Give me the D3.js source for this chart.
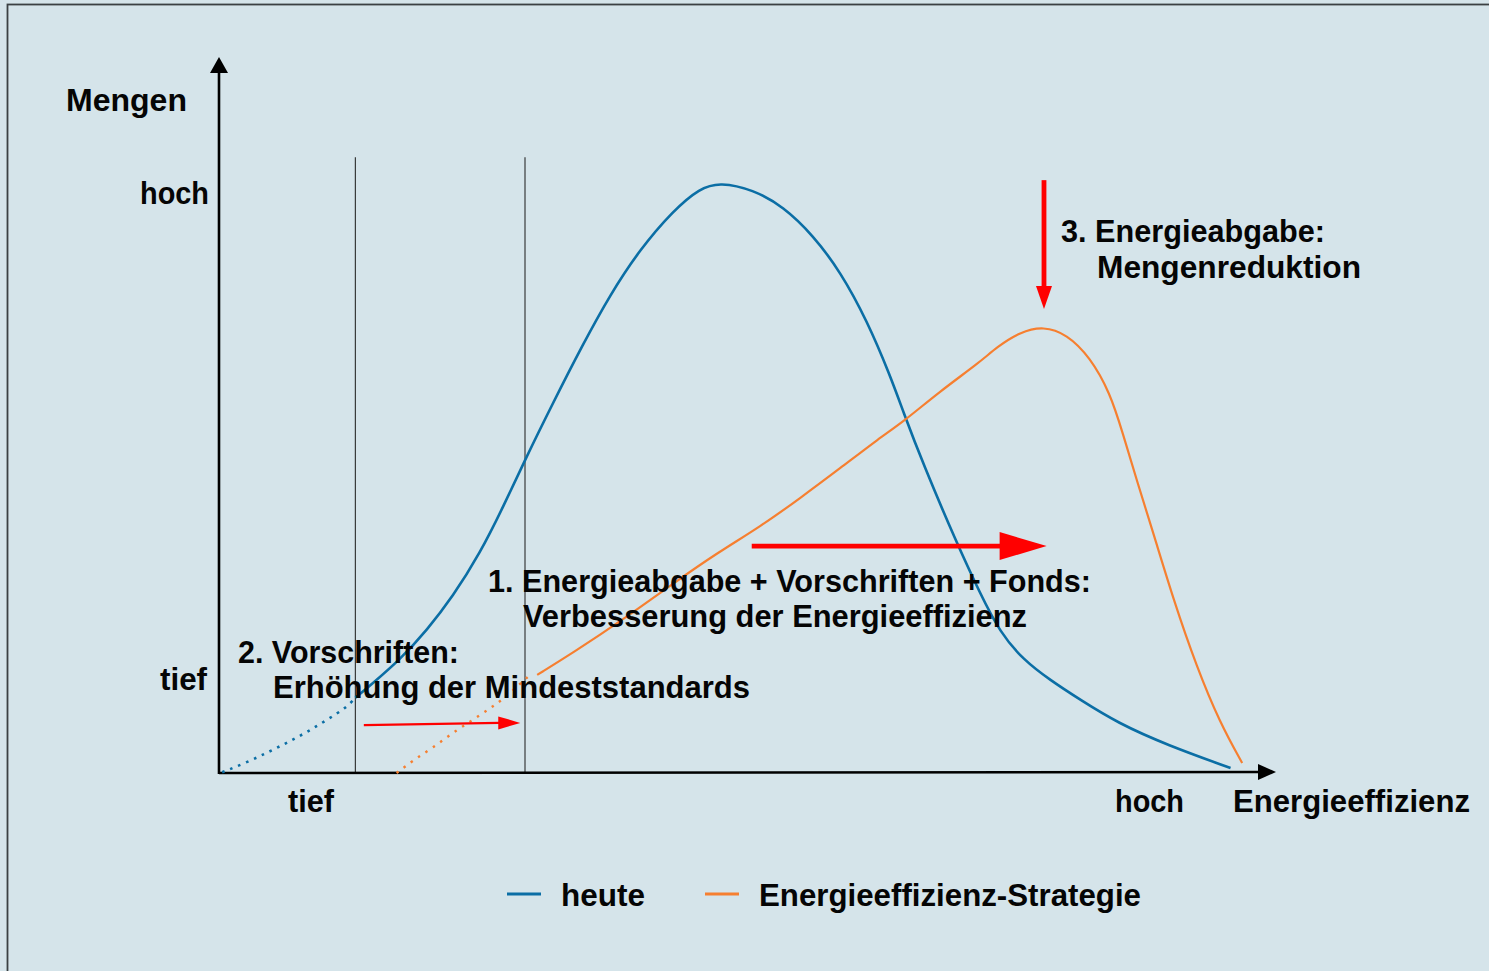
<!DOCTYPE html>
<html>
<head>
<meta charset="utf-8">
<script src="https://cdn.jsdelivr.net/npm/d3@7/dist/d3.min.js"></script>
<style>
  html, body { margin: 0; padding: 0; background: #d5e4ea; }
  svg { display: block; }
  text { font-family: "Liberation Sans", Arial, sans-serif; font-weight: bold; fill: #050505; }
</style>
</head>
<body>
<svg id="chart" width="1489" height="971"></svg>
<script>
// ---- Data (abstract units: Energieeffizienz 0..100, Mengen 0..100) ----
const seriesNames = ["heute", "Energieeffizienz-Strategie"];
const xTickLabels = ["tief", "hoch"];
const yTickLabels = ["tief", "hoch"];

const heuteDotted = [[0.3,0.1],[2.5,1.4],[4.5,2.8],[6.4,4.2],[8.3,5.7],[10.2,7.4],[12.1,9.2],[12.9,10.5]];
const heuteSolid = [[12.9,10.5],[14.6,12.6],[17.1,15.8],[19.7,20.0],[22.1,24.6],[24.7,30.7],[26.9,37.2],[29.0,43.9],
  [31.6,51.7],[34.4,59.8],[37.0,66.8],[39.8,73.1],[43.0,78.6],[45.5,81.7],[47.4,82.5],[50.5,81.5],[53.4,79.1],
  [56.2,75.1],[58.8,70.0],[61.3,63.2],[63.5,55.5],[64.7,50.6],[66.6,43.2],[69.8,32.1],[72.0,25.1],[73.9,19.6],
  [76.1,15.8],[78.6,13.0],[81.5,10.2],[85.0,7.0],[89.7,3.9],[95.7,0.7]];

const strategieDotted = [[16.8,0.0],[18.4,1.8],[20.3,3.6],[22.1,5.6],[24.0,7.4],[25.8,9.2],[26.8,10.2],[29.2,13.4]];
const strategieSolid = [[30.1,13.7],[33.5,16.8],[38.2,21.4],[43.0,26.5],[47.1,30.7],[51.2,34.4],[55.0,38.4],
  [58.8,42.6],[62.5,46.8],[64.7,49.0],[68.2,53.3],[72.0,57.4],[73.6,59.5],[75.8,61.6],[78.0,62.4],[80.2,61.3],
  [82.4,58.1],[84.3,53.1],[85.5,47.5],[86.9,40.5],[88.4,33.5],[90.3,24.2],[92.5,14.8],[94.7,7.0],[96.8,1.4]];

// vertical reference lines (x positions) and top value
const refLinesX = [12.9, 28.95];
const refLineTop = 86.0;

// red arrows: [x1,y1,x2,y2]
const arrowSmall = [13.7, 6.7, 28.5, 7.0];
const arrowBig = [50.4, 31.7, 78.3, 31.7];
const arrowDown = [78.05, 82.8, 78.05, 64.8];

const annotations = [
  ["1. Energieabgabe + Vorschriften + Fonds:", "Verbesserung der Energieeffizienz"],
  ["2. Vorschriften:", "Erhöhung der Mindeststandards"],
  ["3. Energieabgabe:", "Mengenreduktion"]
];
const axisTitles = { x: "Energieeffizienz", y: "Mengen" };

// ---- Drawing ----
const svg = d3.select("#chart");
const colors = { heute: "#0b6ea5", strat: "#f67f30", red: "#ff0000" };

const x = d3.scaleLinear().domain([0, 100]).range([219, 1276]);
const y = d3.scaleLinear().domain([0, 100]).range([773, 57]);

// frame
svg.append("rect").attr("x", 7.5).attr("y", 4.5).attr("width", 1520).attr("height", 1000)
  .attr("fill", "#d5e4ea").attr("stroke", "#3b4043").attr("stroke-width", 1.8);

// reference lines
refLinesX.forEach(v => {
  svg.append("line").attr("x1", x(v)).attr("x2", x(v)).attr("y1", y(refLineTop)).attr("y2", y(0))
    .attr("stroke", "#2a2a2a").attr("stroke-width", 1.1);
});

// axes with arrowheads
const ax0 = x(0), ay0 = y(0);
svg.append("line").attr("x1", ax0).attr("y1", ay0).attr("x2", x(100) - 14).attr("y2", ay0 - 1)
  .attr("stroke", "#000").attr("stroke-width", 2.6);
svg.append("line").attr("x1", ax0).attr("y1", ay0 + 1).attr("x2", ax0).attr("y2", y(100) + 12)
  .attr("stroke", "#000").attr("stroke-width", 2.6);
svg.append("path").attr("d", `M${x(100)},${ay0 - 1} L${x(100) - 18},${ay0 - 9} L${x(100) - 18},${ay0 + 7} Z`).attr("fill", "#000");
svg.append("path").attr("d", `M${ax0},${y(100)} L${ax0 - 9},${y(100) + 16} L${ax0 + 9},${y(100) + 16} Z`).attr("fill", "#000");

// curves
const line = d3.line().x(d => x(d[0])).y(d => y(d[1])).curve(d3.curveBasis);

svg.append("path").attr("d", line(heuteDotted)).attr("fill", "none").attr("stroke", colors.heute)
  .attr("stroke-width", 2.6).attr("stroke-dasharray", "2.6 6");
svg.append("path").attr("d", line(heuteSolid)).attr("fill", "none").attr("stroke", colors.heute)
  .attr("stroke-width", 2.6).attr("stroke-linejoin", "round");
svg.append("path").attr("d", line(strategieDotted)).attr("fill", "none").attr("stroke", colors.strat)
  .attr("stroke-width", 2.4).attr("stroke-dasharray", "2.4 6.5");
svg.append("path").attr("d", line(strategieSolid)).attr("fill", "none").attr("stroke", colors.strat)
  .attr("stroke-width", 2.2).attr("stroke-linejoin", "round");

// red arrows
function hArrow(a, w, headL, headW) {
  const x1 = x(a[0]), y1 = y(a[1]), x2 = x(a[2]), y2 = y(a[3]);
  svg.append("line").attr("x1", x1).attr("y1", y1).attr("x2", x2 - headL + 1).attr("y2", y2)
    .attr("stroke", colors.red).attr("stroke-width", w);
  svg.append("path").attr("d", `M${x2},${y2} L${x2 - headL},${y2 - headW / 2} L${x2 - headL},${y2 + headW / 2} Z`).attr("fill", colors.red);
}
hArrow(arrowSmall, 2.2, 22, 13);
hArrow(arrowBig, 4.8, 47, 28);
{
  const x1 = x(arrowDown[0]), y1 = y(arrowDown[1]), y2 = y(arrowDown[3]);
  svg.append("line").attr("x1", x1).attr("y1", y1).attr("x2", x1).attr("y2", y2 - 21).attr("stroke", colors.red).attr("stroke-width", 4.8);
  svg.append("path").attr("d", `M${x1},${y2} L${x1 - 8},${y2 - 23} L${x1 + 8},${y2 - 23} Z`).attr("fill", colors.red);
}

// text helper
function txt(s, px, py, len, size) {
  svg.append("text").attr("x", px).attr("y", py).attr("font-size", size || 30.5)
    .attr("textLength", len).attr("lengthAdjust", "spacingAndGlyphs").text(s);
}

// axis titles and ticks
txt(axisTitles.y, 66, 111, 121);
txt(yTickLabels[1], 140, 204, 69);
txt(yTickLabels[0], 160, 690, 47);
txt(xTickLabels[0], 288, 812, 46);
txt(xTickLabels[1], 1115, 812, 69);
txt(axisTitles.x, 1233, 812, 237);

// annotations
txt(annotations[0][0], 488, 592, 603);
txt(annotations[0][1], 523, 627, 504);
txt(annotations[1][0], 238, 663, 221);
txt(annotations[1][1], 273, 698, 477);
txt(annotations[2][0], 1061, 242, 264);
txt(annotations[2][1], 1097, 278, 264);

// legend
const legend = [
  { name: seriesNames[0], color: colors.heute, lx: 507, tx: 561, len: 84 },
  { name: seriesNames[1], color: colors.strat, lx: 705, tx: 759, len: 382 }
];
legend.forEach(l => {
  svg.append("line").attr("x1", l.lx).attr("x2", l.lx + 34).attr("y1", 894).attr("y2", 894)
    .attr("stroke", l.color).attr("stroke-width", 3);
  txt(l.name, l.tx, 906, l.len);
});
</script>
</body>
</html>
